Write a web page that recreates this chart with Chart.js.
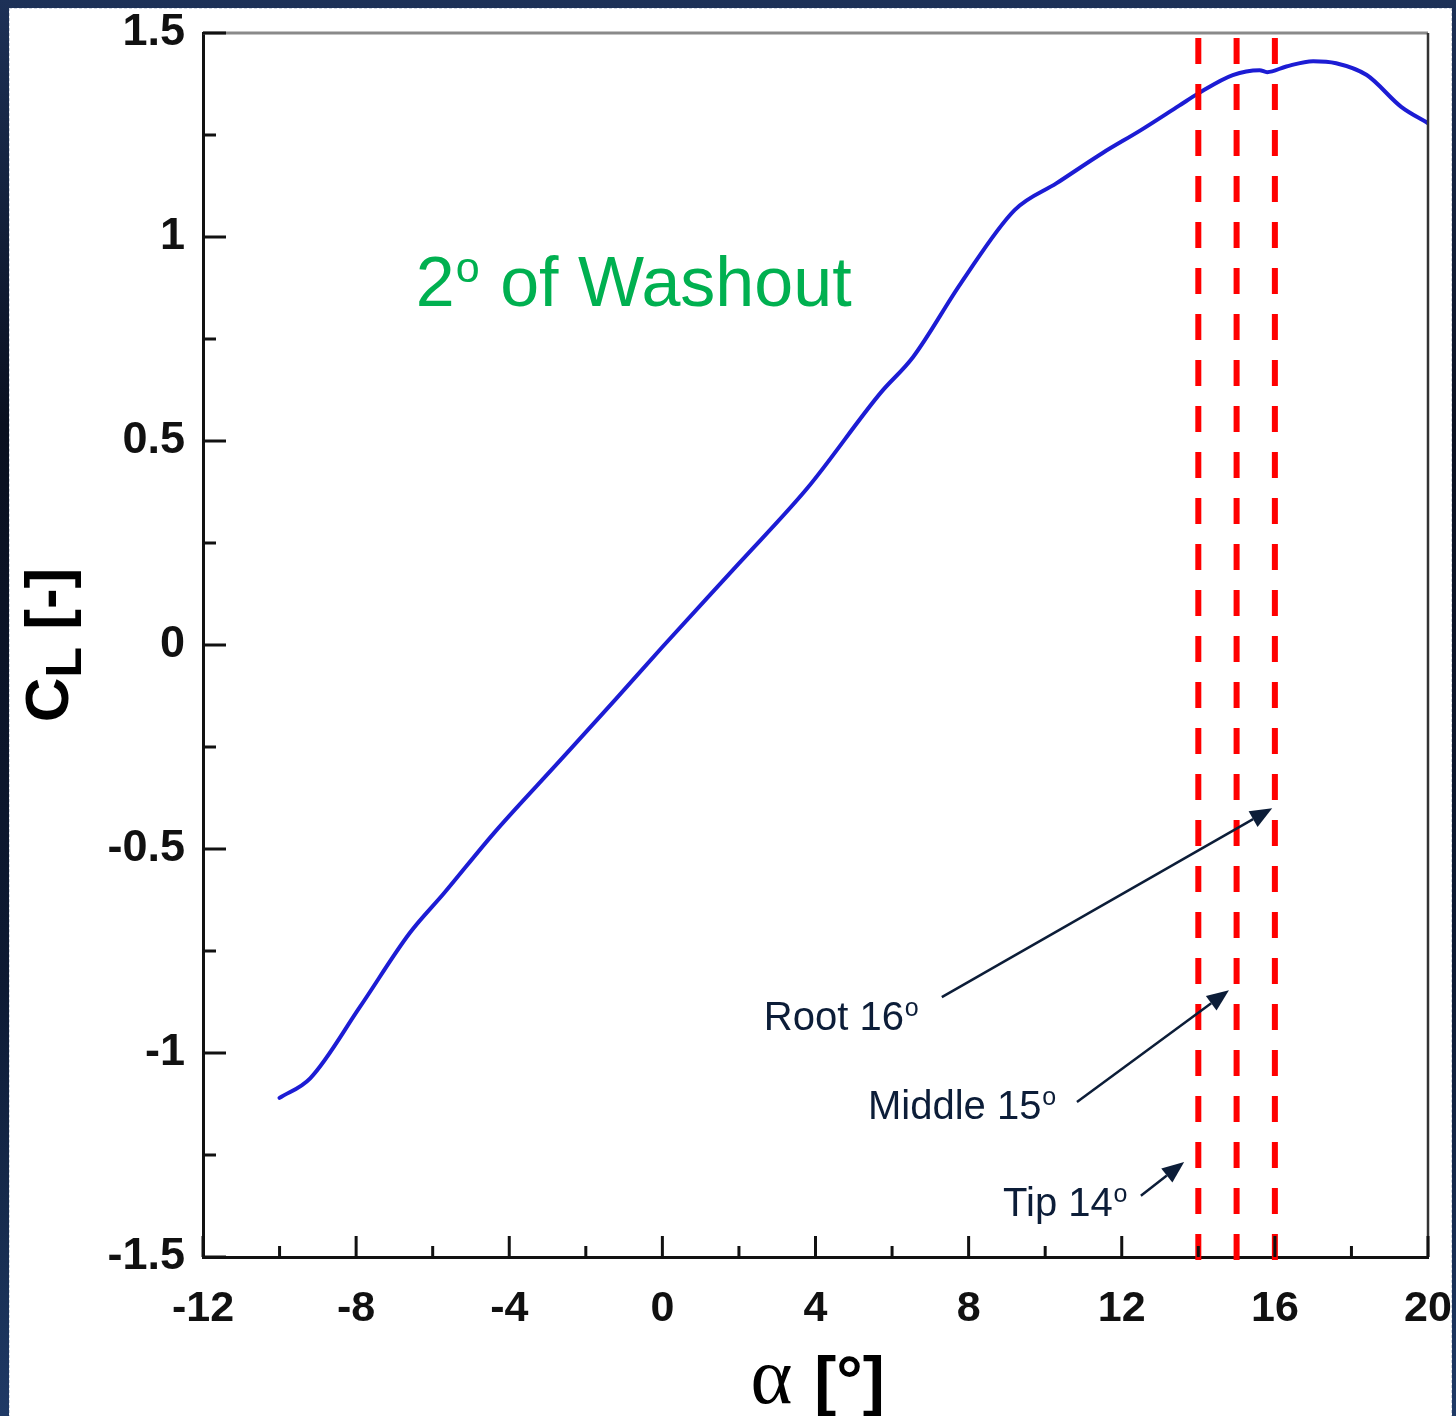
<!DOCTYPE html>
<html>
<head>
<meta charset="utf-8">
<title>Lift curve - 2 deg washout</title>
<script src="https://cdn.jsdelivr.net/npm/chart.js@4.4.1/dist/chart.umd.min.js"></script>
<style>
  html, body { margin: 0; padding: 0; }
  body { width: 1456px; height: 1416px; background: linear-gradient(180deg, #1d3157 0%, #0a1020 30%, #0d1a33 70%, #1f3a66 100%); position: relative; overflow: hidden; }
  #frame { position: absolute; left: 9px; top: 8px; width: 1443px; height: 1410px; background: #fff; box-sizing: border-box; border: 1px dashed #d0d6e0; }
  #chart { position: absolute; left: 0; top: 0; }
</style>
</head>
<body>
<div id="frame"></div>
<canvas id="chart" width="1456" height="1416"></canvas>
<script>
// lift curve
var alpha = [-10, -9.2, -7.9, -6.6, -5.7, -4.4, -2.7, -1.2, 0, 2, 3.8, 5.7, 6.55, 7.8, 9.2, 10.3, 11.5, 12.5, 13.5, 14, 14.9, 15.6, 15.8, 16.3, 17, 17.6, 18.4, 19.3, 20];
var liftCoef = [-1.11, -1.062, -0.887, -0.706, -0.608, -0.461, -0.286, -0.131, -0.005, 0.2, 0.386, 0.618, 0.706, 0.887, 1.066, 1.132, 1.206, 1.262, 1.322, 1.352, 1.397, 1.409, 1.404, 1.418, 1.431, 1.426, 1.397, 1.319, 1.279];

// local angle of attack along the span
var sectionNames = ['Tip', 'Middle', 'Root'];
var sectionAngles = [14, 15, 16];

var xMin = -12, xMax = 20, xStep = 2, xLabelStep = 4;
var yMin = -1.5, yMax = 1.5, yStep = 0.25, yLabelStep = 0.5;

var labelFont = '"Liberation Sans", Arial, sans-serif';

// annotation text + arrows, in data units
var notes = [
    { name: 'Root', text: 'Root 16', x: 2.65, y: -0.944, from: [7.3, -0.863], to: [15.93, -0.4] },
    { name: 'Middle', text: 'Middle 15', x: 5.37, y: -1.162, from: [10.83, -1.12], to: [14.8, -0.846] },
    { name: 'Tip', text: 'Tip 14', x: 8.9, y: -1.4, from: [12.5, -1.35], to: [13.63, -1.267] }
];

function isMultiple(v, step) {
    var r = v / step;
    return Math.abs(r - Math.round(r)) < 1e-9;
}

function textWithSup(ctx, main, sup, x, y, size, weight) {
    ctx.font = weight + ' ' + size + 'px ' + labelFont;
    ctx.fillText(main, x, y);
    var w = ctx.measureText(main).width;
    ctx.font = weight + ' ' + Math.round(size * 0.62) + 'px ' + labelFont;
    ctx.fillText(sup, x + w + size * 0.02, y - size * 0.35);
}

function arrow(ctx, x1, y1, x2, y2) {
    var ang = Math.atan2(y2 - y1, x2 - x1);
    var len = 22, half = 9;
    var bx = x2 - len * Math.cos(ang), by = y2 - len * Math.sin(ang);
    ctx.beginPath();
    ctx.moveTo(x1, y1);
    ctx.lineTo(bx, by);
    ctx.stroke();
    ctx.beginPath();
    ctx.moveTo(x2, y2);
    ctx.lineTo(bx + half * Math.sin(ang), by - half * Math.cos(ang));
    ctx.lineTo(bx - half * Math.sin(ang), by + half * Math.cos(ang));
    ctx.closePath();
    ctx.fill();
}

var frameAndText = {
    id: 'frameAndText',
    afterDatasetsDraw: function (chart) {
        var ctx = chart.ctx;
        var area = chart.chartArea;
        var xs = chart.scales.x, ys = chart.scales.y;
        ctx.save();

        // top and right frame
        ctx.lineCap = 'butt';
        ctx.strokeStyle = '#8a8a8a';
        ctx.lineWidth = 3;
        ctx.beginPath();
        ctx.moveTo(area.left, area.top);
        ctx.lineTo(area.right, area.top);
        ctx.stroke();
        ctx.strokeStyle = '#333';
        ctx.lineWidth = 2.5;
        ctx.beginPath();
        ctx.moveTo(area.right, area.top);
        ctx.lineTo(area.right, area.bottom);
        ctx.stroke();

        // inward ticks
        ctx.strokeStyle = '#111';
        ctx.lineWidth = 3;
        var v, p, len;
        for (v = xMin; v <= xMax; v += xStep) {
            p = xs.getPixelForValue(v);
            len = isMultiple(v, xLabelStep) ? 21 : 11;
            ctx.beginPath();
            ctx.moveTo(p, area.bottom);
            ctx.lineTo(p, area.bottom - len);
            ctx.stroke();
        }
        for (v = yMin; v <= yMax + 1e-9; v += yStep) {
            p = ys.getPixelForValue(v);
            len = isMultiple(v, yLabelStep) ? 23 : 13;
            ctx.beginPath();
            ctx.moveTo(area.left, p);
            ctx.lineTo(area.left + len, p);
            ctx.stroke();
        }

        // green title inside the plot
        ctx.fillStyle = '#00b050';
        ctx.textBaseline = 'alphabetic';
        ctx.textAlign = 'left';
        var gx = xs.getPixelForValue(-6.44), gy = ys.getPixelForValue(0.831);
        ctx.font = '70px ' + labelFont;
        ctx.fillText('2', gx, gy);
        var w2 = ctx.measureText('2').width;
        ctx.font = '43px ' + labelFont;
        ctx.fillText('o', gx + w2 + 1, gy - 24);
        var wo = ctx.measureText('o').width;
        ctx.font = '70px ' + labelFont;
        ctx.fillText(' of Washout', gx + w2 + wo + 2, gy);

        // section labels with arrows
        ctx.fillStyle = '#0c1d38';
        ctx.strokeStyle = '#0c1d38';
        ctx.lineWidth = 2.5;
        notes.forEach(function (n) {
            textWithSup(ctx, n.text, 'o', xs.getPixelForValue(n.x), ys.getPixelForValue(n.y), 40, 'normal');
            arrow(ctx, xs.getPixelForValue(n.from[0]), ys.getPixelForValue(n.from[1]),
                xs.getPixelForValue(n.to[0]), ys.getPixelForValue(n.to[1]));
        });

        // axis titles
        ctx.fillStyle = '#000';
        var cy = (area.top + area.bottom) / 2;
        ctx.save();
        ctx.translate(68, cy);
        ctx.rotate(-Math.PI / 2);
        ctx.font = 'bold 62px ' + labelFont;
        var wC = ctx.measureText('C').width;
        ctx.font = 'bold 50px ' + labelFont;
        var wL = ctx.measureText('L').width;
        ctx.font = 'bold 62px ' + labelFont;
        var wRest = ctx.measureText(' [-]').width;
        var start = -(wC + wL + wRest) / 2;
        ctx.fillText('C', start, 0);
        ctx.font = 'bold 50px ' + labelFont;
        ctx.fillText('L', start + wC, 13);
        ctx.font = 'bold 62px ' + labelFont;
        ctx.fillText(' [-]', start + wC + wL, 0);
        ctx.restore();

        var ax = xs.getPixelForValue(2.3);
        ctx.font = '80px "Liberation Serif", "Times New Roman", serif';
        ctx.fillText('\u03b1', ax, 1403);
        var wa = ctx.measureText('\u03b1').width;
        ctx.font = 'bold 66px ' + labelFont;
        ctx.fillText('[\u00b0]', ax + wa + 22, 1403);

        ctx.restore();
    }
};

var dashSets = sectionAngles.map(function (a, i) {
    return {
        label: sectionNames[i],
        data: [{ x: a, y: 1.488 }, { x: a, y: -1.512 }],
        borderColor: '#ff0000',
        borderWidth: 6,
        borderDash: [26, 20],
        pointRadius: 0,
        clip: false,
        order: 0
    };
});

var curve = {
    label: 'CL',
    data: alpha.map(function (a, i) { return { x: a, y: liftCoef[i] }; }),
    borderColor: '#1c1cd4',
    borderWidth: 4,
    pointRadius: 0,
    cubicInterpolationMode: 'monotone',
    borderCapStyle: 'round',
    order: 1
};

var ctx = document.getElementById('chart').getContext('2d');
var chart = new Chart(ctx, {
    type: 'line',
    data: { datasets: dashSets.concat([curve]) },
    options: {
        responsive: false,
        animation: false,
        events: [],
        layout: { padding: { left: 0, top: 33, right: 28, bottom: 0 } },
        plugins: { legend: { display: false }, tooltip: { enabled: false } },
        scales: {
            x: {
                type: 'linear',
                min: xMin,
                max: xMax,
                grid: { display: false },
                border: { display: true, color: '#111', width: 3 },
                ticks: {
                    stepSize: xStep,
                    padding: 18,
                    color: '#111',
                    maxRotation: 0,
                    autoSkip: false,
                    font: { family: labelFont, size: 43, weight: 'bold' },
                    callback: function (v) { return isMultiple(v, xLabelStep) ? String(v) : ''; }
                },
                afterFit: function (scale) {
                    scale.height = 159;
                    scale.paddingLeft = 0;
                    scale.paddingRight = 0;
                }
            },
            y: {
                type: 'linear',
                min: yMin,
                max: yMax,
                grid: { display: false },
                border: { display: true, color: '#111', width: 3 },
                ticks: {
                    stepSize: yStep,
                    padding: 10,
                    color: '#111',
                    autoSkip: false,
                    font: { family: labelFont, size: 45, weight: 'bold' },
                    callback: function (v) { return isMultiple(v, yLabelStep) ? String(v) : ''; }
                },
                afterFit: function (scale) {
                    scale.width = 203;
                    scale.paddingTop = 0;
                    scale.paddingBottom = 0;
                }
            }
        }
    },
    plugins: [frameAndText]
});
</script>
</body>
</html>
